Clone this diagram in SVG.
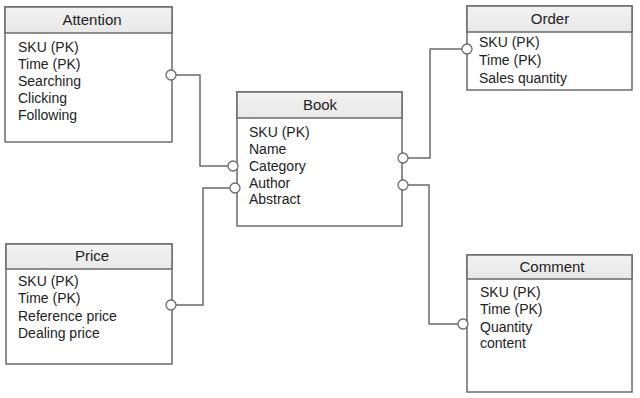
<svg xmlns="http://www.w3.org/2000/svg" width="640" height="398" viewBox="0 0 640 398">
<defs>
<linearGradient id="hdr" x1="0" y1="0" x2="0" y2="1">
<stop offset="0" stop-color="#f2f2f2"/>
<stop offset="1" stop-color="#e8e8e8"/>
</linearGradient>
</defs>
<style>
.box{fill:#fff;stroke:#6b6b6b;stroke-width:1.5}
.hdr{fill:url(#hdr);stroke:#6b6b6b;stroke-width:1.5}
.title{font-family:"Liberation Sans",Arial,sans-serif;font-size:15px;fill:#222;text-anchor:middle}
.item{font-family:"Liberation Sans",Arial,sans-serif;font-size:14px;fill:#222}
.conn{fill:none;stroke:#6b6b6b;stroke-width:1.5}
.end{fill:#fff;stroke:#6b6b6b;stroke-width:1.3}
</style>
<rect width="640" height="398" fill="#fff"/>
<g id="connectors">
<polyline class="conn" points="176,75 200,75 200,166 228,166"/>
<polyline class="conn" points="176,305 203,305 203,188 230,188"/>
<polyline class="conn" points="408,158 430,158 430,49 462,49"/>
<polyline class="conn" points="408,185 429,185 429,324 458,324"/>
</g>
<g id="attention">
<rect class="box" x="5" y="7" width="167" height="135"/>
<rect class="hdr" x="5" y="7" width="167" height="26"/>
<text class="title" x="92" y="25">Attention</text>
<text class="item" x="18" y="52">SKU (PK)</text>
<text class="item" x="18" y="69">Time (PK)</text>
<text class="item" x="18" y="86">Searching</text>
<text class="item" x="18" y="103">Clicking</text>
<text class="item" x="18" y="120">Following</text>
</g>
<g id="book">
<rect class="box" x="237" y="92" width="165" height="134"/>
<rect class="hdr" x="237" y="92" width="165" height="26"/>
<text class="title" x="320" y="110">Book</text>
<text class="item" x="249" y="137">SKU (PK)</text>
<text class="item" x="249" y="154">Name</text>
<text class="item" x="249" y="171">Category</text>
<text class="item" x="249" y="188">Author</text>
<text class="item" x="249" y="204">Abstract</text>
</g>
<g id="order">
<rect class="box" x="467" y="6" width="165" height="84"/>
<rect class="hdr" x="467" y="6" width="165" height="26"/>
<text class="title" x="550" y="24">Order</text>
<text class="item" x="479" y="47">SKU (PK)</text>
<text class="item" x="479" y="65">Time (PK)</text>
<text class="item" x="479" y="83">Sales quantity</text>
</g>
<g id="price">
<rect class="box" x="6" y="244" width="166" height="120"/>
<rect class="hdr" x="6" y="244" width="166" height="25"/>
<text class="title" x="92" y="261">Price</text>
<text class="item" x="18" y="286">SKU (PK)</text>
<text class="item" x="18" y="303">Time (PK)</text>
<text class="item" x="18" y="321">Reference price</text>
<text class="item" x="18" y="338">Dealing price</text>
</g>
<g id="comment">
<rect class="box" x="467" y="255" width="165" height="137"/>
<rect class="hdr" x="467" y="255" width="165" height="24"/>
<text class="title" x="552" y="272">Comment</text>
<text class="item" x="480" y="297">SKU (PK)</text>
<text class="item" x="480" y="314">Time (PK)</text>
<text class="item" x="480" y="332">Quantity</text>
<text class="item" x="480" y="348">content</text>
</g>
<g id="endpoints">
<circle class="end" cx="171" cy="75" r="5"/>
<circle class="end" cx="233" cy="166" r="5"/>
<circle class="end" cx="171" cy="305" r="5"/>
<circle class="end" cx="235" cy="188" r="5"/>
<circle class="end" cx="403" cy="158" r="5"/>
<circle class="end" cx="403" cy="185" r="5"/>
<circle class="end" cx="467" cy="49" r="5"/>
<circle class="end" cx="463" cy="324" r="5"/>
</g>
</svg>
